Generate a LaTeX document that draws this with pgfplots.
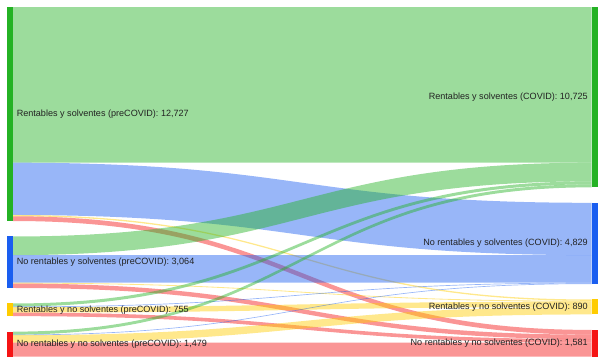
\documentclass[border=0pt]{standalone}
\usepackage{pgfplots}
\pgfplotsset{compat=1.18}
\usepackage{fontspec}
\setmainfont{Liberation Sans}
\definecolor{cg}{RGB}{36,178,36}
\definecolor{cb}{RGB}{26,94,240}
\definecolor{cy}{RGB}{255,204,0}
\definecolor{cr}{RGB}{245,20,20}
\definecolor{txt}{RGB}{34,34,34}
\tikzset{lab/.style={font=\fontsize{6.56}{8}\selectfont, text=txt, inner sep=0pt}}
% link: #1 source top, #2 target top, #3 value, #4 colour
\newcommand{\lk}[4]{\fill[#4,fill opacity=0.45] (axis cs:13,#1) .. controls (axis cs:302.25,#1) and (axis cs:302.25,#2) .. (axis cs:591.5,#2) -- (axis cs:591.5,{#2+#3}) .. controls (axis cs:302.25,{#2+#3}) and (axis cs:302.25,{#1+#3}) .. (axis cs:13,{#1+#3}) -- cycle;}
\begin{document}
\begin{tikzpicture}
\begin{axis}[
  scale only axis, width=6.05in, height=3.63in,
  xmin=0, xmax=605, ymin=-416.3, ymax=21171.7, y dir=reverse,
  hide axis, clip=false,
]
\path (rel axis cs:0,0) rectangle (rel axis cs:1,1);
% from RS (preCOVID), top 0
\lk{0}{0}{9259}{cg}
\lk{9259}{11645}{3110}{cb}
\lk{12369}{17394}{78}{cy}
\lk{12447}{19204}{280}{cr}
% from NRS (preCOVID), top 13647
\lk{13647}{9259}{1110}{cg}
\lk{14757}{14755}{1640}{cb}
\lk{16397}{17472}{50}{cy}
\lk{16447}{19484}{264}{cr}
% from RNS (preCOVID), top 17631
\lk{17631}{10369}{180}{cg}
\lk{17811}{16395}{40}{cb}
\lk{17851}{17522}{320}{cy}
\lk{18171}{19748}{215}{cr}
% from NRNS (preCOVID), top 19306
\lk{19306}{10549}{176}{cg}
\lk{19482}{16435}{39}{cb}
\lk{19521}{17842}{442}{cy}
\lk{19963}{19963}{822}{cr}
% nodes, left
\addplot[fill=cg,draw=none,mark=none] coordinates {(7,0) (13,0) (13,12727) (7,12727)};
\addplot[fill=cb,draw=none,mark=none] coordinates {(7,13647) (13,13647) (13,16711) (7,16711)};
\addplot[fill=cy,draw=none,mark=none] coordinates {(7,17631) (13,17631) (13,18386) (7,18386)};
\addplot[fill=cr,draw=none,mark=none] coordinates {(7,19306) (13,19306) (13,20785) (7,20785)};
% nodes, right
\addplot[fill=cg,draw=none,mark=none] coordinates {(591.5,0) (597.5,0) (597.5,10725) (591.5,10725)};
\addplot[fill=cb,draw=none,mark=none] coordinates {(591.5,11645) (597.5,11645) (597.5,16474) (591.5,16474)};
\addplot[fill=cy,draw=none,mark=none] coordinates {(591.5,17394) (597.5,17394) (597.5,18284) (591.5,18284)};
\addplot[fill=cr,draw=none,mark=none] coordinates {(591.5,19204) (597.5,19204) (597.5,20785) (591.5,20785)};
% labels
\node[lab,anchor=west] at (axis cs:16.5,6363.5) {Rentables y solventes (preCOVID): 12,727};
\node[lab,anchor=west] at (axis cs:16.5,15179) {No rentables y solventes (preCOVID): 3,064};
\node[lab,anchor=west] at (axis cs:16.5,18008.5) {Rentables y no solventes (preCOVID): 755};
\node[lab,anchor=west] at (axis cs:16.5,20045.5) {No rentables y no solventes (preCOVID): 1,479};
\node[lab,anchor=east] at (axis cs:588,5362.5) {Rentables y solventes (COVID): 10,725};
\node[lab,anchor=east] at (axis cs:588,14059.5) {No rentables y solventes (COVID): 4,829};
\node[lab,anchor=east] at (axis cs:588,17839) {Rentables y no solventes (COVID): 890};
\node[lab,anchor=east] at (axis cs:588,19994.5) {No rentables y no solventes (COVID): 1,581};
\end{axis}
\end{tikzpicture}
\end{document}
